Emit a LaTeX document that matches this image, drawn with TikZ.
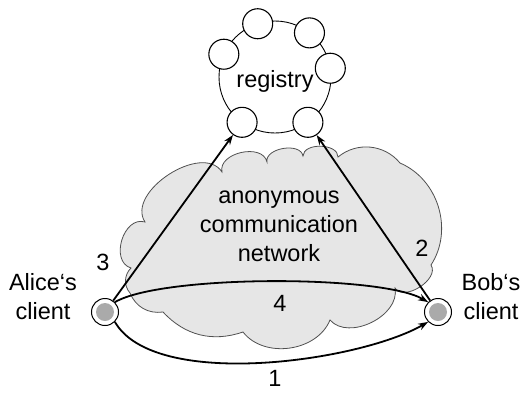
\documentclass[tikz,border=0pt]{standalone}
\usepackage{fontspec}
\setmainfont{Liberation Sans}
\usetikzlibrary{arrows.meta}
\definecolor{cloudfill}{HTML}{E6E6E6}
\definecolor{cloudline}{HTML}{505050}
\definecolor{dotgray}{HTML}{AAAAAA}
\tikzset{
  txt/.style={font=\fontsize{23.5}{29}\selectfont, inner sep=0pt},
  slot/.style={circle, draw, fill=white, line width=1.1pt, minimum size=30pt, inner sep=0pt},
  client/.style={circle, draw, fill=white, line width=1pt, minimum size=27pt, inner sep=0pt},
  arr/.style={line width=1.8pt, -{Stealth[length=10pt,width=7pt]}},
  lobe/.style={bend left=#1}
}
\begin{document}
\begin{tikzpicture}[x=1pt,y=1pt]
  \useasboundingbox (0,0) rectangle (531,-392);

  % nube de la red
  \draw[fill=cloudfill, draw=cloudline, line width=0.8pt]
    (131,-268) to[lobe=90, looseness=1.2] (145,-222)
    to[lobe=90] (222,-172)
    to[lobe=90, looseness=1.1] (267,-162)
    to[lobe=90] (303,-156)
    to[lobe=90] (338,-157)
    to[lobe=45] (400,-163)
    to[lobe=50] (431,-265)
    to[lobe=90] (395,-288)
    to[lobe=75] (330,-320)
    to[lobe=60] (243,-332)
    to[lobe=33] (163,-312)
    to[lobe=38] (130,-293)
    to[lobe=43] cycle;
  \node[txt, align=center] (acn) at (279,-226) {anonymous\\communication\\network};

  % registro
  \node[circle, draw, line width=0.9pt, minimum size=112pt, inner sep=0pt] (reg) at (275,-77) {};
  \node[txt] (regtxt) at (275,-81) {registry};
  \foreach \a/\n in {9/r1, 52/r2, 108/r3, 156/r4, 234/r5, 306/r6}
    \path (reg.center) ++(\a:56) node[slot] (\n) {};

  \node[client] (alice) at (105,-312) {};
  \node[client] (bob) at (438,-312) {};
  \fill[dotgray] (alice.center) circle (9);
  \fill[dotgray] (bob.center) circle (9);
  \node[txt, align=center] (alicetxt) at (43,-297) {Alice‘s\\client};
  \node[txt, align=center] (bobtxt) at (491,-297) {Bob‘s\\client};

  \draw[arr] (alice) -- (r5);
  \draw[arr] (bob) -- (r6);
  \draw[arr] (alice.45) to[out=30, in=150, looseness=0.45] (bob.135);
  \draw[arr] (alice.-45) to[out=-60, in=-150, looseness=0.65] (bob.-135);

  \node[txt] (n1) at (275,-378) {1};
  \node[txt] (n2) at (422,-248) {2};
  \node[txt] (n3) at (103,-262) {3};
  \node[txt] (n4) at (280,-303) {4};
\end{tikzpicture}
\end{document}
